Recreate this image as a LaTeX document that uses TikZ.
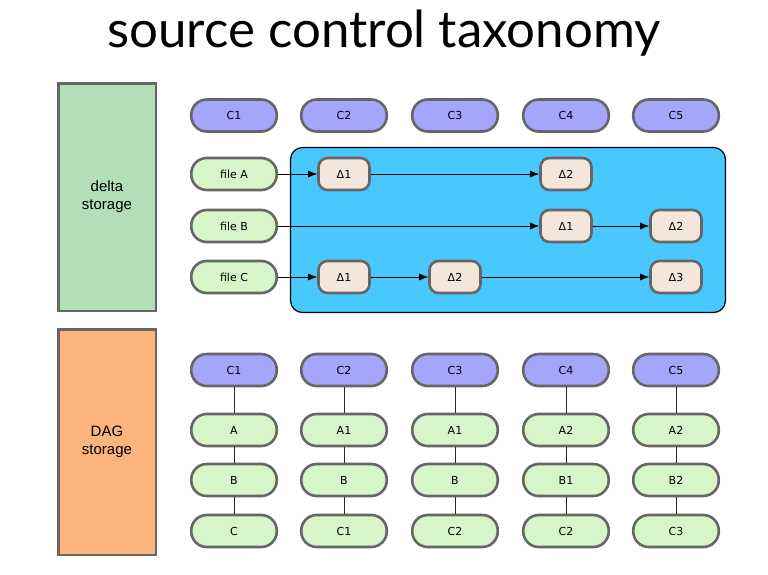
\documentclass[tikz,border=0pt]{standalone}
\usepackage{fontspec}
\setmainfont{DejaVu Sans}
\newfontfamily\titlefont{Lato}
\newfontfamily\labelfont{Liberation Sans}
\usetikzlibrary{arrows.meta}
\definecolor{commitblue}{HTML}{A3A6FB}
\definecolor{blobgreen}{HTML}{D6F5C9}
\definecolor{deltatan}{HTML}{F4E6DA}
\definecolor{poolblue}{HTML}{48C8FE}
\definecolor{deltagreen}{HTML}{B3DFB8}
\definecolor{dagorange}{HTML}{FBB47B}
\definecolor{edgegray}{HTML}{666666}
\begin{document}
\begin{tikzpicture}[x=1pt,y=-1pt,
  pill/.style={draw=edgegray, line width=2.6pt, rounded corners=15.5pt,
    minimum width=85.5pt, minimum height=32pt, inner sep=0pt,
    font=\fontsize{11}{13}\selectfont},
  commit/.style={pill, fill=commitblue},
  blob/.style={pill, fill=blobgreen},
  delta/.style={pill, fill=deltatan, rounded corners=9pt, minimum width=51pt},
  store/.style={draw=edgegray, line width=2.5pt, inner sep=0pt,
    minimum width=97.5pt, align=center,
    font=\labelfont\fontsize{15}{18}\selectfont},
  flow/.style={-{Latex[length=9pt,width=7pt]}, line width=0.8pt},
  link/.style={line width=0.8pt, draw=black!85}]
\useasboundingbox (0,0) rectangle (768,574);
\fill[white] (0,0) rectangle (768,574);

% heading
\node[font=\titlefont\fontsize{51}{56}\selectfont, anchor=base] (title) at (384,47) {source control taxonomy};

% storage kinds
\node[store, fill=deltagreen, minimum height=227.5pt] (deltastore) at (107,197) {delta\\storage};
\node[store, fill=dagorange, minimum height=225.5pt] (dagstore) at (107,442) {DAG\\storage};

% delta pool
\node[draw=black, line width=1.2pt, fill=poolblue, rounded corners=12pt,
  minimum width=435pt, minimum height=165pt, inner sep=0pt] (pool) at (508,230) {};

% top row of commits
\foreach \i/\x in {1/234,2/344,3/455,4/566,5/676}
  \node[commit] (tc\i) at (\x,115.5) {C\i};

% files and their deltas
\node[blob] (fa) at (234,174) {file A};
\node[blob] (fb) at (234,226) {file B};
\node[blob] (fc) at (234,277) {file C};

\node[delta] (a1) at (344,174) {Δ1};
\node[delta] (a2) at (566,174) {Δ2};
\node[delta] (b1) at (566,226) {Δ1};
\node[delta] (b2) at (676,226) {Δ2};
\node[delta] (c1) at (344,277) {Δ1};
\node[delta] (c2) at (455,277) {Δ2};
\node[delta] (c3) at (676,277) {Δ3};

\draw[flow] (fa) -- (a1);
\draw[flow] (a1) -- (a2);
\draw[flow] (fb) -- (b1);
\draw[flow] (b1) -- (b2);
\draw[flow] (fc) -- (c1);
\draw[flow] (c1) -- (c2);
\draw[flow] (c2) -- (c3);

% snapshot columns
\foreach \i/\x/\a/\b/\c in {1/234/A/B/C, 2/344/A1/B/C1, 3/455/A1/B/C2, 4/566/A2/B1/C2, 5/676/A2/B2/C3} {
  \node[commit] (dc\i) at (\x,370) {C\i};
  \node[blob] (da\i) at (\x,430) {\a};
  \node[blob] (db\i) at (\x,480) {\b};
  \node[blob] (dd\i) at (\x,531) {\c};
  \draw[link] (dc\i) -- (da\i);
  \draw[link] (da\i) -- (db\i);
  \draw[link] (db\i) -- (dd\i);
}
\end{tikzpicture}
\end{document}
